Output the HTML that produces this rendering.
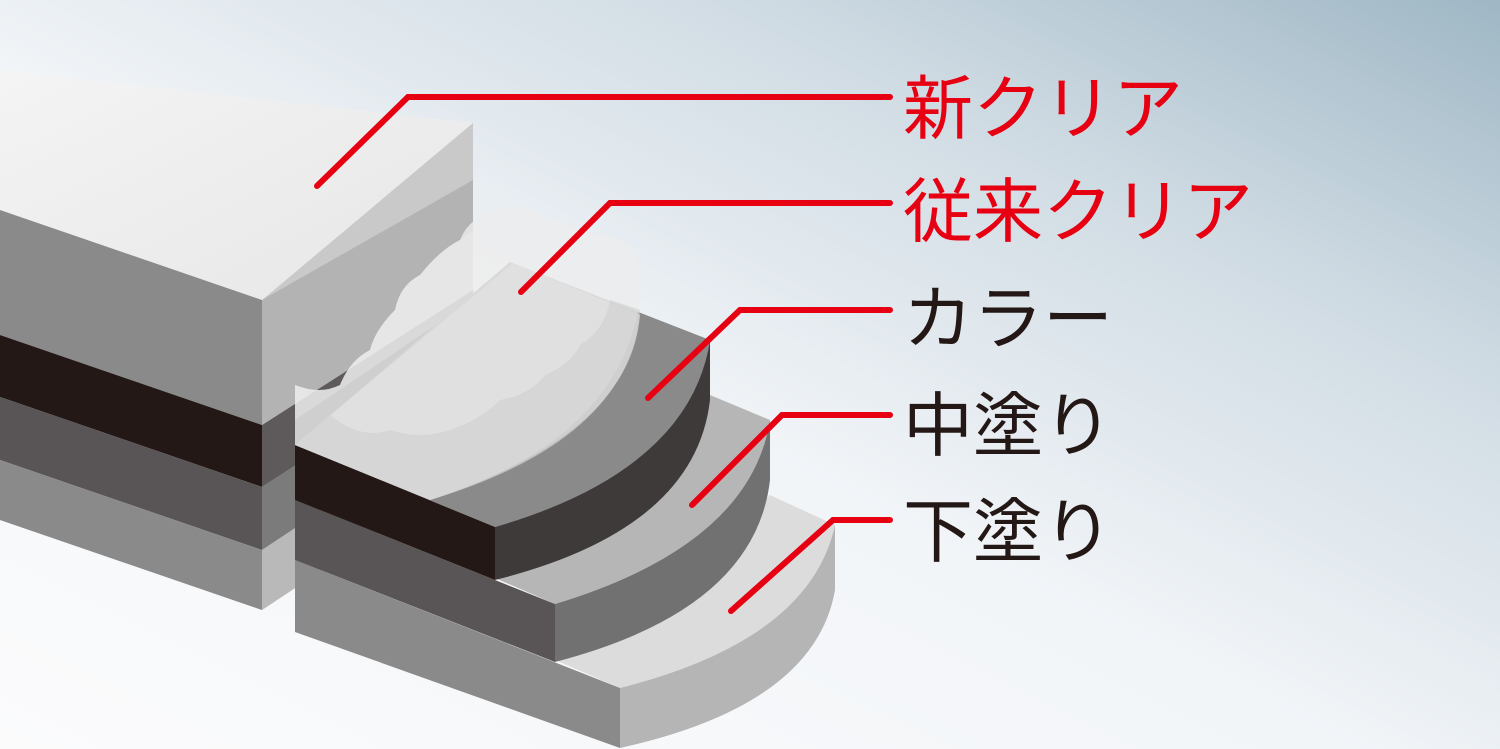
<!DOCTYPE html>
<html><head><meta charset="utf-8"><style>
html,body{margin:0;padding:0;width:1500px;height:749px;overflow:hidden;}
svg{display:block}
text{font-family:"Liberation Sans","Noto Sans CJK JP",sans-serif;font-size:70px;}
</style></head><body>
<svg width="1500" height="749" viewBox="0 0 1500 749">
<defs>
<linearGradient id="bg" x1="0" y1="1" x2="1" y2="0">
<stop offset="0" stop-color="#fbfbfc"/>
<stop offset="0.45" stop-color="#f2f5f8"/>
<stop offset="0.75" stop-color="#cfdbe3"/>
<stop offset="1" stop-color="#9fb7c5"/>
</linearGradient>
<linearGradient id="topf" x1="0" y1="0" x2="1" y2="1">
<stop offset="0" stop-color="#f4f4f4"/><stop offset="1" stop-color="#e6e6e6"/>
</linearGradient>
</defs>
<rect width="1500" height="749" fill="url(#bg)"/>

<!-- Left block -->
<polygon points="0,70 473,123 262,300 0,210" fill="url(#topf)"/>
<polygon points="262,300 473,123 473,470 262,610" fill="#c9c9c9"/>
<polygon points="262,425 473,290 473,350 262,487" fill="#5e5a5b"/>
<polygon points="262,487 473,350 473,410 262,550" fill="#7b7b7b"/>
<polygon points="262,550 473,410 473,470 262,610" fill="#b9b9b9"/>
<polygon points="262,300 473,180 473,290 262,425" fill="#b3b3b3"/>
<polygon points="0,210 262,300 262,425 0,335" fill="#8a8a8a"/>
<polygon points="0,335 262,425 262,487 0,397" fill="#231815"/>
<polygon points="0,397 262,487 262,550 0,460" fill="#595556"/>
<polygon points="0,460 262,550 262,610 0,520" fill="#8a8a8a"/>
<!-- new clear lighter cut on end face -->
<path d="M295,385 Q320,395 340,385 Q350,360 370,350 Q375,330 395,310 Q400,285 420,275 Q440,250 460,240 L473,230 L473,300 L295,420 Z" fill="#ffffff" opacity="0.3"/>

<!-- Base layer 下塗り -->
<path d="M555,660 L620,688 Q810,640 835,525 L770,495 L700,560 Z" fill="#dcdcdc"/>
<path d="M620,688 Q810,640 835,525 L835,590 Q815,705 620,748 Z" fill="#b5b5b5"/>
<polygon points="295,560 620,688 620,748 295,632" fill="#8a8a8a"/>

<!-- Intermediate 中塗り -->
<path d="M495,578 L555,604 Q750,545 770,420 L710,395 Z" fill="#b6b6b6"/>
<path d="M555,604 Q750,545 770,420 L770,480 Q755,610 555,662 Z" fill="#727171"/>
<polygon points="295,500 555,604 555,662 295,560" fill="#595556"/>

<!-- Color カラー -->
<path d="M295,445 L495,527 Q690,470 710,340 L510,262 Z" fill="#8a8a8a"/>
<path d="M495,527 Q690,470 710,340 L710,400 Q695,530 495,580 Z" fill="#3e3a39"/>
<polygon points="295,445 495,527 495,580 295,500" fill="#231815"/>

<!-- old clear 従来クリア (translucent, wavy) -->
<path d="M295,445 L430,500 Q620,440 640,300 Q645,250 620,240 Q600,230 585,235 Q560,220 540,215 Q520,200 500,210 Q470,215 460,240 Q440,250 420,275 Q400,285 395,310 Q375,330 370,350 Q350,360 340,385 Q320,395 295,385 Z" fill="#ececec" opacity="0.8"/>
<path d="M295,445 L513,263 L640,315 Q630,435 430,500 Z" fill="#e2e2e2" opacity="0.7"/>
<path d="M330,415 Q360,440 390,430 Q420,440 450,430 Q480,420 500,400 Q530,395 545,375 Q570,365 580,345 Q605,330 610,300 L640,310 Q630,440 430,500 L295,445 Z" fill="#d2d2d2" opacity="0.7"/>

<!-- Red leader lines -->
<g stroke="#e60012" stroke-width="6" fill="none" stroke-linecap="round" stroke-linejoin="miter">
<polyline points="317,186 408,97 890,97"/>
<polyline points="521,292 610,203 890,203"/>
<polyline points="648,398 740,310 890,310"/>
<polyline points="692,505 782,415 890,415"/>
<polyline points="731,611 833,520 890,520"/>
</g>

<!-- Labels -->
<text x="903" y="133" fill="#e60012">新クリア</text>
<text x="903" y="236" fill="#e60012">従来クリア</text>
<text x="903" y="343" fill="#231815">カラー</text>
<text x="903" y="450" fill="#231815">中塗り</text>
<text x="903" y="556" fill="#231815">下塗り</text>
</svg>
</body></html>
